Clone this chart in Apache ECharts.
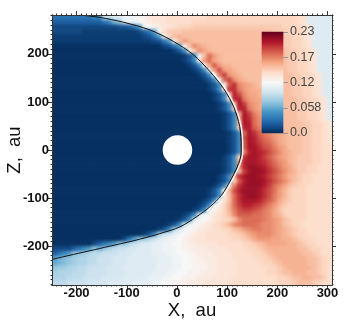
<!DOCTYPE html>
<html>
<head>
<meta charset="utf-8">
<style>
  html, body { margin: 0; padding: 0; background: #fff; }
  #chart { width: 349px; height: 324px; }
  /* bottom layer holds only the field cells, soften them and trim to the frame */
  #chart canvas:first-child { filter: blur(1.5px); clip-path: inset(15px 17px 39px 52px); }
</style>
<script src="https://cdn.jsdelivr.net/npm/echarts@6/dist/echarts.min.js"></script>
</head>
<body>
<div id="chart"></div>
<script>
// cell values, in units of 0.01, top row first, "value*count" runs
const fieldRows = [
  "3*8 4*2 9*2 10*2 11*3 12*2 13*4 13.5*8 14*18 13.5*2 10*5",
  "2*10 3 4 6 7 10 11*2 11.5 12 12.5 13*3 13.5*5 14*21 13.5 13 10*5",
  "1*13 1.5*2 2 3 5 11 11.5 12 12.5 13*2 13.5 14*3 14.5*18 14*4 13.5 13 10*4",
  "1*6 .5*11 1 2 3 5 12 13.5 14.5*3 15*18 14.5*3 14*3 13.5 13 10*4",
  ".5*18 1 1.5 3 5 12 14 15 15.5 15*20 14.5*2 14*2 13.5 13 10*4",
  ".5*20 1 1.5 3 5 12 15 16.5 15.5 15*18 14.5*2 14*2 13.5 13 10*4",
  "0*22 1 1.5 3 5 11.5 15 17 16 15.5 15*15 14.5*2 14*2 13.5 13 10*4",
  "0*24 .5 1.5 4 11 14.5 17 16 15.5 15*15 14.5*2 14*2 13.5 13 10*3",
  "0*26 .5 1.5 4 11 15 18 16.5 15.5 15*13 14.5*2 14*2 13.5 13 10*3",
  "0*26 .5 1.5 4 12 16.5 18 16 15.5 15*13 14.5*2 14*2 13.5 13 10*3",
  "0*27 .5 1.5 4 11 16 18.5 16.5 15.5*2 15*11 14.5*2 14*2 13.5 13 10*3",
  "0*28 .5 1.5 4 11 16.5 19 16.5 16 15.5 15*10 14.5*2 14*2 13.5 13 10*3",
  "0*29 .5 1.5 4 11.5 17.5 19.5 16.5 16 15.5 15*10 14.5*2 14*2 13.5 13 10*2",
  "0*30 .5 1.5 4 12 18 19.5 17 16 15.5 15*9 14.5*2 14*2 13.5 13 10*2",
  "0*31 .5 1.5 4 12 18.5 20 17 16.5 16 15.5 15*7 14.5*2 14*2 13.5 13 10*2",
  "0*31 .5 1.5 4 13 20 20 17.5 16.5 16 15.5*2 15*6 14.5*2 14*2 13.5 13 10*2",
  "0*32 .5 1.5 4 14 20.5 19 17 16 16 15.5 15*6 14.5*2 14*2 13.5 13 10*2",
  "0*32 .5 1.5 4 13 20 20.5 17.5 16.5 16 16 15.5 15*6 14.5*2 14*2 13.5 13 10",
  "0*33 .5 1.5 4 15 21 19.5 17 16.5 16 15.5 15*6 14.5*2 14*2 13.5 13 10",
  "0*33 .5 1.5 4 14 20.5 20.5 17.5 16.5 16 16 15.5 15*5 14.5*2 14*2 13.5 13 10",
  "0*34 .5 1.5 4 16 21 19.5 17.5 16.5 16 16 15.5 15*4 14.5*2 14*2 13.5 13 10",
  "0*34 .5 1.5 4 16 21 20 18 17 16.5 16 15.5 15*4 14.5*2 14*2 13.5 13 10",
  "0*34 .5 1.5 4 15 21 20.5 18 17 16.5 16 15.5 15*5 14.5*2 14*2 13.5 13",
  "0*34 .5 1.5 4 14 20.5 20.5 18.5 17.5 17 16.5 16 15.5 15*4 14.5*2 14*2 13.5 13",
  "0*35 .5 1.5 4 18 21 20 18.5 17.5 17 16.5 16 15.5 15*3 14.5*2 14*2 13.5 13",
  "0*35 .5 1.5 4 19 21 20.5 19 18 17.5 16.5 16 15.5 15*3 14.5*2 14*2 13.5 13",
  "0*35 .5 1.5 4 18.5 21 20.5 19.5 18.5 18 17 16 15.5 15*3 14.5*2 14*2 13.5 13",
  "0*35 .5 1.5 4 18.5 21 21 20 19 18.5 17.5 16.5 16 15*3 14.5*2 14*2 13.5*2",
  "0*35 .5 1.5 4 17 20.5 21 20.5 20 19 18 17 16 15.5 15*2 14.5*2 14*2 13.5*2",
  "0*34 .5 1.5 4 14 20 21 21 20.5 19.5 18.5 17.5 16.5 16 15.5 15 14.5*3 14*2 13.5*2",
  "0*34 .5 1.5 4 16 20.5 21 21 20.5 20 19 18 17 16.5 15.5 15 14.5*3 14*2 13.5*2",
  "0*34 .5 1.5 4 17 20.5 21.5 21.5 21 20.5 19.5 18.5 17.5 16.5 16 15 14.5*2 14*2 13.5*3",
  "0*34 .5 1.5 4 15 19.5 21 21.5 21.5 21 20 19 18 17 16 15.5 14.5*2 14*2 13.5*3",
  "0*33 .5 1.5 4 16 20 21 21.5 21.5 21 20.5 19.5 18.5 17.5 16.5 15.5 15 14.5 14*2 13.5*4",
  "0*33 .5 1.5 4 14 18.5 20.5 21.5 21.5 21.5 21 20 19 18 17 16 15 14.5 14*2 13.5*4",
  "0*32 .5 1.5 4 13 17.5 20 21 21.5 21.5 21.5 20.5 19.5 18 17 16 15 14.5 14*2 13.5*5",
  "0*31 .5 1.5 4 12 15.5 19 20.5 21.5*3 21 20 19 18 16.5 15.5 14.5 14*3 13.5*5",
  "0*31 .5 1.5 4 12 15 18 20 21 21.5 21.5 21 20 19 17.5 16.5 15.5 14.5 14*3 13.5*5",
  "0*30 .5 1.5 4 11 13 15 18 20 21 21 21 20.5 19.5 18.5 17.5 16 15 14.5 14*3 13.5*5",
  "0*29 .5 1.5 4 11 12 14 15.5 18 19.5 20.5 20.5 20 19.5 18.5 17.5 16.5 15.5 14.5 14*4 13.5*5",
  "0*28 .5 1.5 4 11 12 13 14 15.5 17.5 19 19.5 19.5 19 18.5 17.5 17 16 15 14 14*4 13.5*5",
  "0*26 .5 1.5 4 10 11 12 13 13.5 14 15 17 18.5 18.5 18.5 18 18 17.5 17 16 15.5 14.5 14*4 13.5*5",
  "0*25 .5 1.5 4 10 11 11.5 12 13 13.5 14 14 15 17 18 18 18 18 17.5 17 16.5 16 15 14.5 14*3 13.5*5",
  "0*23 .5 1.5 4 9 10.5 11.5 12 12.5 13 13.5 14 14.5 15.5 17 17.5 18*3 17.5 17*2 16.5 16 15 14.5 14*2 13.5*6",
  "0*21 .5 1.5 4 8 9.5 11 11.5 12 12.5 13*2 13.5*2 14*2 15 15.5 16.5 17 17.5*2 17*2 16.5 16 15.5 15 14.5 14*2 13.5*5",
  "0*18 .5 1.5 4 8 9 9.5 10.5 11 11.5 12 12.5 13*2 13.5*4 14*2 14.5 15 16 16.5 17*3 16.5 16 15.5 15 14.5 14*2 13.5*5",
  "0*14 1 3 5 7 7 8 9 10 10.5 11*2 11.5 12 12.5 13*3 13.5*5 14*2 14.5 15 16 16.5*3 16*2 15.5*2 15 14.5 14*2 13.5*4",
  "0*8 1 2 3 4 5 7 7 8 9 9.5 10*2 10.5*2 11*2 11.5*2 12 12.5*2 13*4 13.5*5 14*2 14.5 15 15.5 16*4 15.5*2 15 14.5 14*2 13.5*3",
  "1*4 2 3 4 5 7 6 7 8 8.5 9*2 9.5*2 10*3 10.5*2 11*3 11.5 12*2 12.5*3 13*4 13.5*4 14*2 14.5 15 15.5*6 15*2 14.5 14*2 13.5*2",
  "2 3 4 5 7 7 7.5 8 8.5*2 9*3 9.5*3 10*4 10.5*3 11*2 11.5*2 12*2 12.5*3 13*4 13.5*4 14*2 14.5 15 15.5*6 15*2 14.5 14 13.5*2",
  "5 6 6.5 7 7.5 8*2 8.5*2 9*3 9.5*3 10*6 10.5*3 11*2 11.5*2 12*2 12.5*3 13*3 13.5*5 14*2 14.5 15 15.5*6 15*2 14.5 14 13.5",
  "5.5 6 6.5 7 7.5 8*2 8.5*2 9*3 9.5*3 10*6 10.5*3 11*2 11.5*2 12*3 12.5*2 13*4 13.5*5 14*2 14.5 15 15.5*5 15*2 14.5 14 13.5",
  "7 7.5*2 8*2 8.5*2 9*4 9.5*3 10*7 10.5*3 11*2 11.5*2 12*3 12.5*2 13*4 13.5*6 14*2 14.5 15 15.5*5 15 14.5 14 13.5",
  "7.5 8*3 8.5*3 9*4 9.5*4 10*5 10.5*3 11*2 11.5*2 12*3 12.5*3 13*4 13.5*6 14*2 14.5 15*2 15.5*3 15*2 14.5 14 13.5",
  "8*3 8.5*3 9*4 9.5*4 10*5 10.5*3 11*2 11.5*2 12*3 12.5*3 13*4 13.5*9 14*2 14.5 15*2 15.5*2 15*2 14.5 13.5",
  "8.5*3 9*4 9.5*4 10*5 10.5*4 11*2 11.5*2 12*3 12.5*3 13*5 13.5*10 14*3 14.5 15*3 14.5 14 13.5*2"
];
// boundary curve, x then z in au
const boundaryX = [-249, -238, -196, -154, -112, -87, -72, -34, 6, 39, 66, 89, 109, 123, 128, 128, 125, 113, 93, 66, 33, -7, -54, -107, -154, -194];
const boundaryZ = [-228, -225, -215, -205, -195, -189, -185, -174, -160, -139, -118, -94, -59, -28, -5, 7, 49, 90, 128, 163, 198, 226, 250, 266, 276, 281];
// pale band just outside the nose of the boundary
const paleX = [60, 74, 92, 112, 126, 131, 131, 128, 116, 96, 70];
const paleZ = [-128, -110, -94, -59, -28, -5, 7, 49, 90, 128, 163];

const xTicks = [-200, -100, 0, 100, 200, 300];
const zTicks = [-200, -100, 0, 100, 200];
const barTicks = [0, 0.0575, 0.115, 0.1725, 0.23];
const barLabels = ["0.0", "0.058", "0.12", "0.17", "0.23"];
const barColors = ["#053061", "#2166ac", "#4393c3", "#92c5de", "#d1e5f0", "#f7f7f7", "#fddbc7", "#f4a582", "#d6604d", "#b2182b", "#67001f"];

const xRange = [-249, 309];
const zRange = [-281, 281];
const frameColor = "#333";
const labelFont = { color: "#111", fontFamily: "Liberation Sans", fontWeight: "bold", fontSize: 13 };
const nameFont = { color: "#111", fontFamily: "Liberation Sans", fontSize: 18.5 };

function fineTicks(range) {
  const out = [];
  for (let v = Math.ceil(range[0] / 10) * 10; v <= range[1]; v += 10) {
    out.push(v);
  }
  return out;
}

function decodeRow(row) {
  const out = [];
  row.split(" ").forEach((run) => {
    const [value, count] = run.split("*");
    for (let i = 0; i < (count ? +count : 1); i++) {
      out.push(+value / 100);
    }
  });
  return out;
}

// edge cells are repeated once outside the frame so the soft layer does not fade at the frame
const table = fieldRows.map((row) => {
  const vals = decodeRow(row);
  return [vals[0]].concat(vals, [vals[vals.length - 1]]);
});
table.unshift(table[0]);
table.push(table[table.length - 1]);
const cells = [];
table.forEach((vals, r) => {
  vals.forEach((v, c) => cells.push([c, r, v]));
});
const colNames = table[0].map((v, i) => i);
const rowNames = table.map((v, i) => i);

// colour bar cells
const barSteps = [];
for (let i = 0; i < 101; i++) {
  barSteps.push((100 - i) * 0.0023);
}
const barCells = barSteps.map((v, i) => [0, i, v]);

// one value axis along an edge of the frame, major or fine ticks
function edgeAxis(position, range, ticks, length, extra) {
  return Object.assign({
    type: "value",
    gridIndex: 1,
    position: position,
    min: range[0],
    max: range[1],
    zlevel: 1,
    splitLine: { show: false },
    axisLine: { show: true, onZero: false, lineStyle: { color: frameColor, width: 1 } },
    axisTick: { show: true, customValues: ticks, length: length, lineStyle: { color: frameColor, width: 1 } },
    axisLabel: { show: false },
    z: 5
  }, extra);
}

const xLabels = {
  name: "X,  au",
  nameLocation: "middle",
  nameGap: 16,
  nameMoveOverlap: false,
  nameTextStyle: nameFont,
  axisLabel: Object.assign({ show: true, customValues: xTicks, margin: 2, formatter: (v) => String(v), hideOverlap: false }, labelFont)
};
const zLabels = {
  name: "Z,  au",
  nameLocation: "middle",
  nameGap: 28,
  nameMoveOverlap: false,
  nameTextStyle: nameFont,
  axisLabel: Object.assign({ show: true, customValues: zTicks, margin: 3, formatter: (v) => String(v), hideOverlap: false }, labelFont)
};

const option = {
  animation: false,
  grid: [
    { left: 47, top: 10.18, width: 290, height: 279.64, outerBoundsMode: "none" },
    { left: 52, top: 15, width: 280, height: 270, outerBoundsMode: "none" },
    { left: 262, top: 32, width: 21, height: 101, outerBoundsMode: "none" }
  ],
  xAxis: [
    { type: "category", data: colNames, show: false, gridIndex: 0 },
    edgeAxis("bottom", xRange, xTicks, 4, xLabels),
    edgeAxis("bottom", xRange, fineTicks(xRange), 1.5),
    edgeAxis("top", xRange, xTicks, 4),
    edgeAxis("top", xRange, fineTicks(xRange), 1.5),
    { type: "category", data: ["bar"], gridIndex: 2, show: false }
  ],
  yAxis: [
    { type: "category", data: rowNames, show: false, inverse: true, gridIndex: 0 },
    edgeAxis("left", zRange, zTicks, 4, zLabels),
    edgeAxis("left", zRange, fineTicks(zRange), 1.5),
    edgeAxis("right", zRange, zTicks, 4),
    edgeAxis("right", zRange, fineTicks(zRange), 1.5),
    { type: "category", data: barSteps.map((v, i) => i), gridIndex: 2, show: false, inverse: true },
    {
      type: "value",
      gridIndex: 2,
      position: "right",
      min: 0,
      max: 0.23,
      zlevel: 1,
      splitLine: { show: false },
      axisLine: { show: false },
      axisTick: { show: true, customValues: barTicks, length: 5, lineStyle: { color: "#999", width: 1 } },
      axisLabel: {
        show: true,
        customValues: barTicks,
        margin: 7,
        color: "#444",
        fontFamily: "Liberation Sans",
        fontSize: 12.5,
        hideOverlap: false,
        formatter: (v) => barLabels[barTicks.indexOf(v)]
      }
    }
  ],
  visualMap: {
    type: "continuous",
    show: false,
    seriesIndex: [0, 4],
    min: 0,
    max: 0.23,
    inRange: { color: barColors }
  },
  series: [
    {
      type: "heatmap",
      xAxisIndex: 0,
      yAxisIndex: 0,
      data: cells,
      silent: true,
      progressive: 0,
      zlevel: 0
    },
    {
      type: "line",
      xAxisIndex: 1,
      yAxisIndex: 1,
      data: paleX.map((x, i) => [x, paleZ[i]]),
      smooth: 0.3,
      showSymbol: false,
      silent: true,
      zlevel: 1,
      lineStyle: { color: "#fff", width: 1.5, opacity: 0.9 },
      z: 3
    },
    {
      type: "line",
      xAxisIndex: 1,
      yAxisIndex: 1,
      data: boundaryX.map((x, i) => [x, boundaryZ[i]]),
      smooth: 0.3,
      showSymbol: false,
      silent: true,
      zlevel: 1,
      lineStyle: { color: "#111", width: 1 },
      z: 4
    },
    {
      type: "scatter",
      xAxisIndex: 1,
      yAxisIndex: 1,
      data: [[1, 0]],
      symbol: "circle",
      symbolSize: 29.5,
      silent: true,
      zlevel: 1,
      itemStyle: { color: "#fff", opacity: 1 },
      z: 4
    },
    {
      type: "heatmap",
      xAxisIndex: 5,
      yAxisIndex: 5,
      data: barCells,
      silent: true,
      progressive: 0,
      zlevel: 1
    }
  ]
};

const chart = echarts.init(document.getElementById("chart"));
chart.setOption(option);
</script>
</body>
</html>
